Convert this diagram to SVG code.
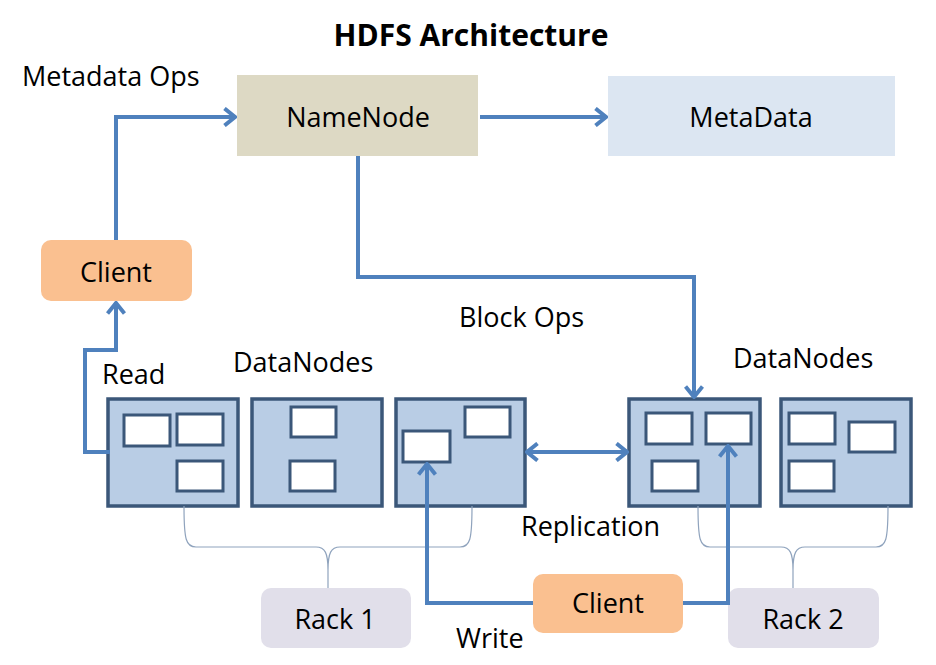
<svg xmlns="http://www.w3.org/2000/svg" width="936" height="665" viewBox="0 0 936 665">
<style>
text{font-family:"Open Sans","Noto Sans","DejaVu Sans",sans-serif;font-size:27px;fill:#000}
.title{font-weight:bold;font-size:30px}
.c{text-anchor:middle}
.dn{fill:#B9CDE5;stroke:#3B5779;stroke-width:3.5}
.blk{fill:#fff;stroke:#3B5779;stroke-width:3}
.conn{fill:none;stroke:#4F81BD;stroke-width:4}
.brace{fill:none;stroke:#8FA3BD;stroke-width:1.2}
</style>
<defs>
<marker id="arr" viewBox="0 0 14 20" markerWidth="14" markerHeight="20" refX="12" refY="10" orient="auto-start-reverse" markerUnits="userSpaceOnUse">
<path d="M1.5,1.5 L12,10 L1.5,18.5" fill="none" stroke="#4F81BD" stroke-width="4" stroke-linejoin="miter"/>
</marker>
</defs>
<rect width="936" height="665" fill="#fff"/>
<text class="title c" x="471" y="46">HDFS Architecture</text>

<g id="namenode">
<rect x="237" y="75" width="241" height="81" fill="#DDD9C4"/>
<text class="c" x="358" y="127">NameNode</text>
</g>
<g id="metadata">
<rect x="608" y="76" width="287" height="80" fill="#DCE6F2"/>
<text class="c" x="751" y="127">MetaData</text>
</g>
<g id="client-top">
<rect x="41" y="240" width="151" height="61" rx="10" fill="#FAC090"/>
<text class="c" x="116" y="282">Client</text>
</g>
<g id="client-bottom">
<rect x="533" y="574" width="150" height="59" rx="10" fill="#FAC090"/>
<text class="c" x="608" y="613">Client</text>
</g>
<g id="rack1">
<rect x="261" y="588" width="150" height="60" rx="10" fill="#E1DFEA"/>
<text class="c" x="335" y="629">Rack 1</text>
</g>
<g id="rack2">
<rect x="728" y="588" width="151" height="60" rx="10" fill="#E1DFEA"/>
<text class="c" x="803" y="629">Rack 2</text>
</g>

<g id="datanode1">
<rect class="dn" x="108" y="399" width="130" height="107"/>
<rect class="blk" x="124" y="415" width="46" height="31"/>
<rect class="blk" x="177" y="414" width="46" height="31"/>
<rect class="blk" x="177" y="461" width="46" height="30"/>
</g>
<g id="datanode2">
<rect class="dn" x="252" y="399" width="130" height="107"/>
<rect class="blk" x="291" y="407" width="45" height="30"/>
<rect class="blk" x="290" y="461" width="45" height="30"/>
</g>
<g id="datanode3">
<rect class="dn" x="396" y="399" width="129" height="107"/>
<rect class="blk" x="403" y="431" width="47" height="31"/>
<rect class="blk" x="465" y="407" width="45" height="30"/>
</g>
<g id="datanode4">
<rect class="dn" x="629" y="399" width="131" height="107"/>
<rect class="blk" x="646" y="413" width="46" height="31"/>
<rect class="blk" x="706" y="413" width="45" height="31"/>
<rect class="blk" x="652" y="461" width="46" height="30"/>
</g>
<g id="datanode5">
<rect class="dn" x="781" y="399" width="130" height="107"/>
<rect class="blk" x="789" y="413" width="46" height="31"/>
<rect class="blk" x="849" y="422" width="46" height="30"/>
<rect class="blk" x="789" y="461" width="45" height="30"/>
</g>

<g id="labels">
<text x="22" y="86">Metadata Ops</text>
<text x="459" y="327">Block Ops</text>
<text x="233" y="372">DataNodes</text>
<text x="733" y="368">DataNodes</text>
<text x="102" y="384">Read</text>
<text x="521" y="536">Replication</text>
<text x="456" y="648">Write</text>
</g>

<g id="braces">
<path class="brace" d="M184,506 C184,540 186,547 196,547 L316,547 C325,547 328,553 328,570 L328,588 M328,570 C328,553 331,547 340,547 L460,547 C470,547 472,540 472,506"/>
<path class="brace" d="M698,506 C698,540 700,547 710,547 L781,547 C790,547 793,553 793,570 L793,588 M793,570 C793,553 796,547 805,547 L876,547 C886,547 888,540 888,506"/>
</g>

<g id="connectors">
<path class="conn" d="M116,240 V117 H235" marker-end="url(#arr)"/>
<path class="conn" d="M480,117 H606" marker-end="url(#arr)"/>
<path class="conn" d="M358,156 V277 H694 V397" marker-end="url(#arr)"/>
<path class="conn" d="M110,452 H85 V350 H116 V303" marker-end="url(#arr)"/>
<path class="conn" d="M527,452 H627" marker-start="url(#arr)" marker-end="url(#arr)"/>
<path class="conn" d="M533,603 H427 V464" marker-end="url(#arr)"/>
<path class="conn" d="M683,603 H728 V446" marker-end="url(#arr)"/>
</g>
</svg>
